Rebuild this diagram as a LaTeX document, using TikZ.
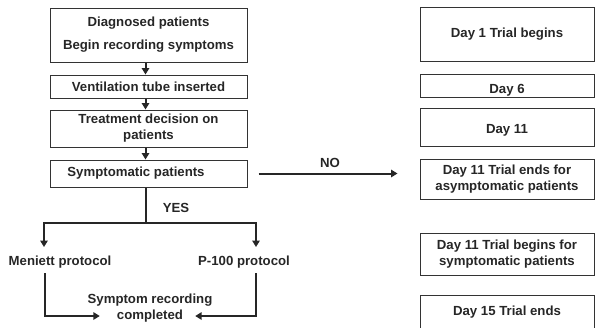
\documentclass[tikz,border=0pt]{standalone}
\usepackage{fontspec}
\setmainfont{Liberation Sans}
\usetikzlibrary{arrows.meta,calc}
\begin{document}
\begin{tikzpicture}[x=1pt,y=-1pt,
 txt/.style={font=\fontsize{13.2}{16}\selectfont\bfseries, text=black!85, inner sep=0pt, align=center},
 box/.style={txt, draw=black!80, line width=1pt},
 lbox/.style={box, minimum width=197pt},
 rbox/.style={box, minimum width=174pt},
 arr/.style={draw=black!85, line width=2pt, -{Triangle[length=6.5pt,width=7.5pt]}},
 ln/.style={draw=black!85, line width=2pt}]
\useasboundingbox (0,0) rectangle (595,327);
% left column
\node[lbox, minimum height=54pt] (b1) at (148.5,35) {Diagnosed patients\\[7pt]Begin recording symptoms};
\node[lbox, minimum height=23pt] (b2) at (148.5,86.5) {Ventilation tube inserted};
\node[lbox, minimum height=37pt] (b3) at (148.5,128.5) {Treatment decision on\\patients};
\node[lbox, minimum height=27pt] (b4) at (148.5,173.5) {};
\node[txt] (b4t) at (136,173.5) {Symptomatic patients};
\draw[arr] ([xshift=-3pt]b1.south) -- ([xshift=-3pt]b2.north);
\draw[arr] ([xshift=-3pt]b2.south) -- ([xshift=-3pt]b3.north);
\draw[arr] ([xshift=-3pt]b3.south) -- ([xshift=-3pt]b4.north);
\coordinate (sp) at (146,223);
\draw[ln] ([xshift=-2.5pt]b4.south) -- (sp);
\node[txt] (yes) at (176,208) {YES};
\coordinate (lt) at (44,247);
\coordinate (rt) at (256,247);
\draw[arr] (sp) -| (lt);
\draw[arr] (sp) -| (rt);
\node[txt] (men) at (60,262) {Meniett protocol};
\node[txt] (p100) at (244,262) {P-100 protocol};
\node[txt] (srec) at (150,300) {Symptom recording};
\node[txt] (cmp) at (150,316) {completed};
\coordinate (ms) at (45,273);
\coordinate (ps) at (256,273);
\draw[arr] (ms) |- ([xshift=-17pt]cmp.west);
\draw[arr] (ps) |- ([xshift=12pt]cmp.east);
% NO branch
\draw[arr] ([xshift=11pt]b4.east) -- ++(139,0);
\node[txt] (no) at (330,163) {NO};
% right column
\node[rbox, minimum height=54pt] (r1) at (507,34) {Day 1 Trial begins};
\node[rbox, minimum height=23pt] (r2) at (507,85.5) {};
\node[txt] (r2t) at (507,90) {Day 6};
\node[rbox, minimum height=38pt] (r3) at (507,127) {};
\node[txt] (r3t) at (507,130) {Day 11};
\node[rbox, minimum height=40pt] (r4) at (507,179) {Day 11 Trial ends for\\asymptomatic patients};
\node[rbox, minimum height=42pt] (r5) at (507,254) {Day 11 Trial begins for\\symptomatic patients};
\node[rbox, minimum height=44pt] (r6) at (507,317) {};
\node[txt] (r6t) at (507,312) {Day 15 Trial ends};
\end{tikzpicture}
\end{document}
